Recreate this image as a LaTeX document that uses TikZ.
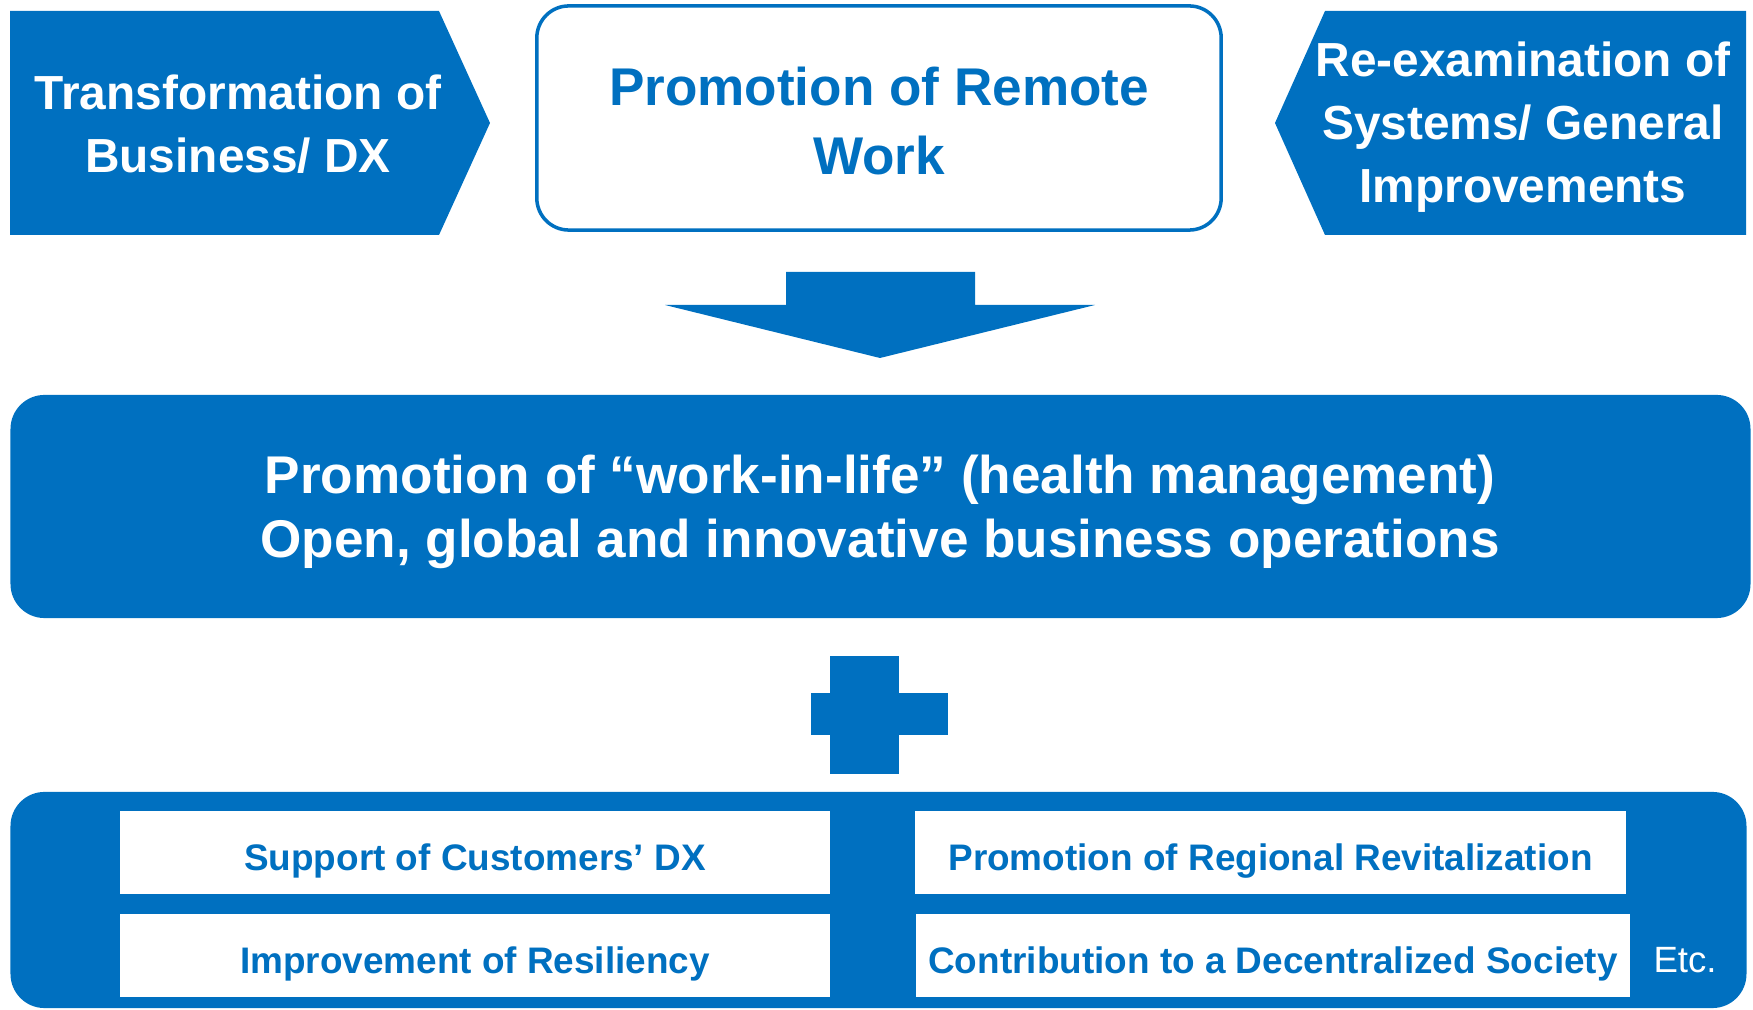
\documentclass[tikz,border=0pt]{standalone}
\usepackage{fontspec}
\setmainfont{Liberation Sans}
\usepackage{tikz}
\definecolor{dxblue}{RGB}{0,112,192}

\begin{document}
\begin{tikzpicture}[x=0.01cm, y=-0.01cm,
  every node/.style={inner sep=0pt, align=center},
  sidetext/.style={text=white, font=\bfseries\fontsize{13.6}{17.9}\selectfont},
  remotebox/.style={draw=dxblue, line width=1pt, fill=white, rounded corners=0.32cm,
    minimum width=6.84cm, minimum height=2.24cm, text=dxblue,
    font=\bfseries\fontsize{15.1}{19.6}\selectfont},
  lifebox/.style={fill=dxblue, rounded corners=0.34cm, minimum width=17.39cm,
    minimum height=2.23cm, text=white, font=\bfseries\fontsize{15.1}{18.2}\selectfont},
  panel/.style={fill=dxblue, rounded corners=0.34cm, minimum width=17.35cm, minimum height=2.16cm},
  whitebox/.style={fill=white, text=dxblue, minimum height=0.82cm, text height=1.05em, text depth=0pt,
    font=\bfseries\fontsize{10.5}{12.6}\selectfont}]

\useasboundingbox (0,0) rectangle (1753,1010);

% top row
\fill[dxblue] (10,11) -- (439,11) -- (490,123) -- (439,235) -- (10,235) -- cycle;
\node[sidetext] (DX) at (238,124) {Transformation of\\Business/ DX};
\node[remotebox] (Remote) at (879,118) {};
\node[text=dxblue, font=\bfseries\fontsize{15.1}{19.6}\selectfont] (RemoteText) at (879,121) {Promotion of Remote\\Work};
\fill[dxblue] (1746,11) -- (1325,11) -- (1275,123) -- (1325,235) -- (1746,235) -- cycle;
\node[sidetext] (Systems) at (1523,127) {Re-examination of\\Systems/ General\\Improvements};

% arrow down
\fill[dxblue] (786,272) -- (975,272) -- (975,305) -- (1095,305) -- (880,358) -- (665,305) -- (786,305) -- cycle;

\node[lifebox] (Life) at (880.5,506.5) {};
\node[text=white, font=\bfseries\fontsize{15.1}{18.2}\selectfont] (LifeText) at (880,512)
  {Promotion of “work-in-life” (health management)\\Open, global and innovative business operations};

% plus
\fill[dxblue] (830,656) rectangle (899,774);
\fill[dxblue] (811,693) rectangle (948,735);

% bottom panel
\node[panel] (Panel) at (878.5,900) {};
\node[whitebox, minimum width=7.10cm] (Customers) at (475,852.5) {Support of Customers’ DX};
\node[whitebox, minimum width=7.11cm] (Regional) at (1270.5,852.5) {Promotion of Regional Revitalization};
\node[whitebox, minimum width=7.10cm] (Resiliency) at (475,955.5) {Improvement of Resiliency};
\node[whitebox, minimum width=7.14cm] (Society) at (1273,955.5) {Contribution to a Decentralized Society};
\node[text=white, font=\fontsize{10.4}{12.5}\selectfont] (Etc) at (1685,960) {Etc.};

\end{tikzpicture}
\end{document}
